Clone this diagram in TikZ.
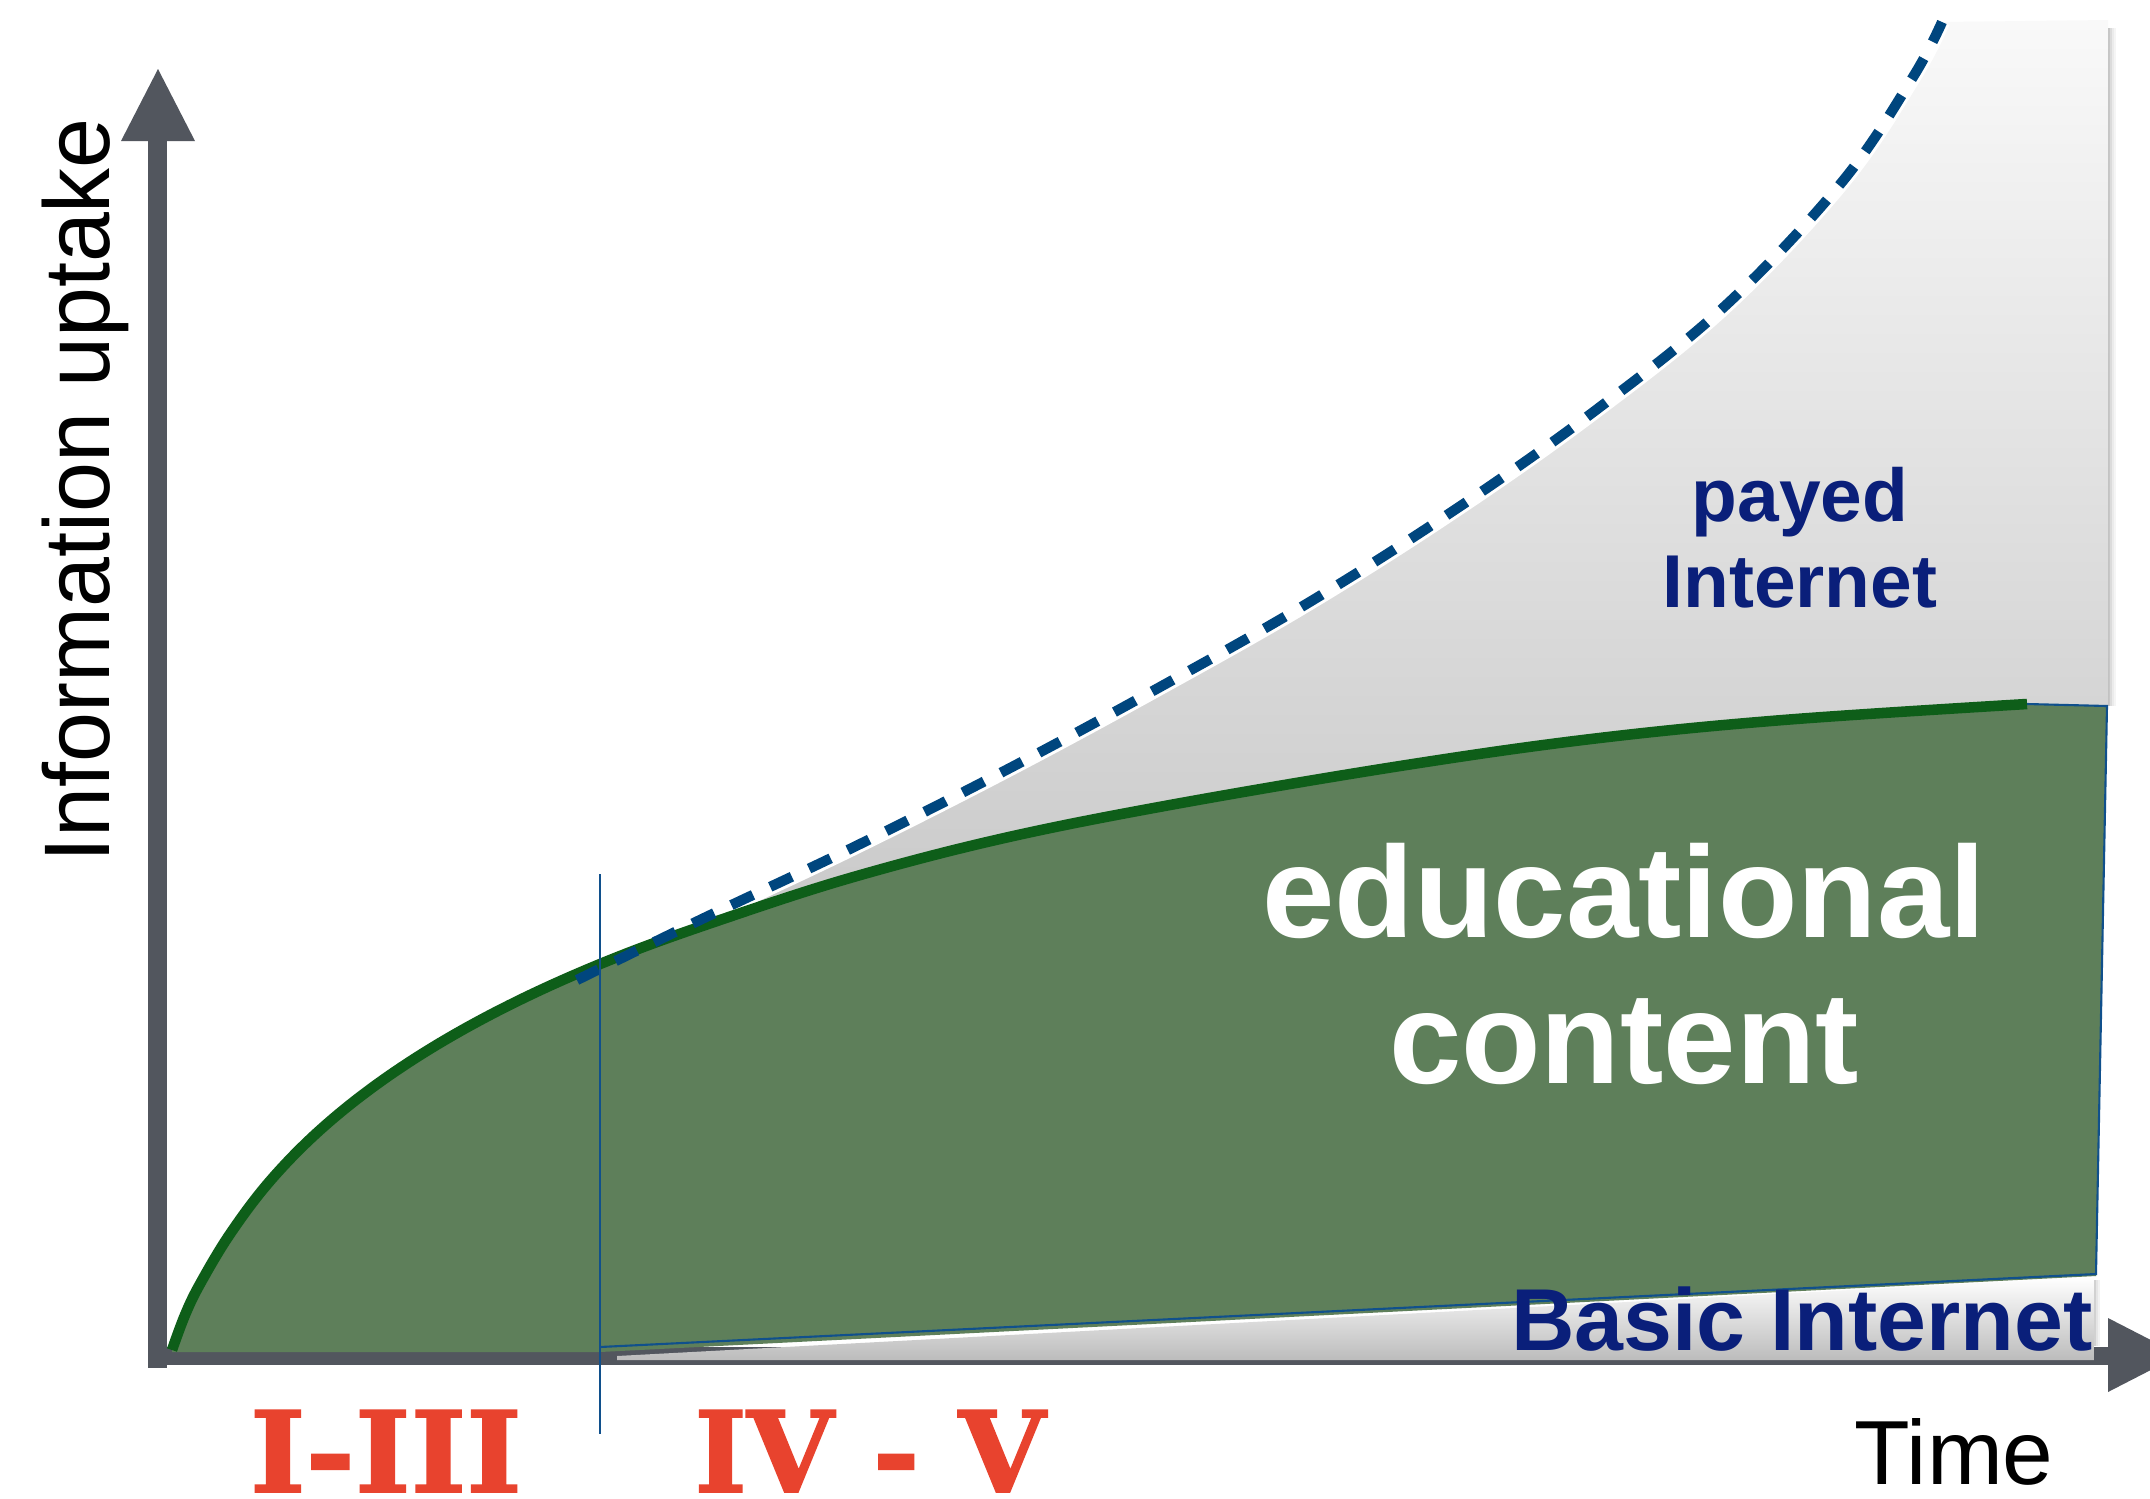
\documentclass[tikz,border=0pt]{standalone}
\usepackage{fontspec}
\setmainfont{Liberation Sans}
\newfontfamily\romfont[BoldFeatures={FakeBold=1.6}]{DejaVu Serif}
\definecolor{axisgray}{HTML}{52565E}
\definecolor{eduGreen}{HTML}{5E7F5A}
\definecolor{lineGreen}{HTML}{0E5E19}
\definecolor{dashBlue}{HTML}{00467E}
\definecolor{thinBlue}{HTML}{10508C}
\definecolor{navyText}{HTML}{0A1F7A}
\definecolor{phaseRed}{HTML}{E8432E}
\definecolor{panelTop}{HTML}{F9F9F9}
\definecolor{panelBottom}{HTML}{C6C6C6}
\definecolor{basicBottom}{HTML}{BCBCBC}
\tikzset{
  axisfill/.style={fill=axisgray},
  greenline/.style={draw=lineGreen, line width=3pt},
  dashline/.style={draw=dashBlue, line width=2.9pt, dash pattern=on 6.8pt off 5.4pt},
  thinline/.style={draw=thinBlue, line width=0.6pt},
  navylabel/.style={text=navyText, anchor=base, align=center, inner sep=0pt},
  phaselabel/.style={text=phaseRed, anchor=base, inner sep=0pt, font=\romfont\bfseries\fontsize{31.9}{36}\selectfont},
}
\begin{document}
\begin{tikzpicture}[x=0.01cm,y=-0.01cm]
\useasboundingbox (0,0) rectangle (2150,1499);
\clip (0,0) rectangle (2150,1499);
\fill[white] (0,0) rectangle (2150,1499);

% axes
\coordinate (origin) at (158,1356);
\fill[axisfill] (148,141) rectangle (167,1368);
\fill[axisfill] (121,141) -- (158,69) -- (195,141) -- cycle;
\fill[axisfill] (148,1347) rectangle (2108,1365);
\fill[axisfill] (2108,1318) -- (2180,1355) -- (2108,1392) -- cycle;

% payed internet panel
\shade[top color=panelTop, bottom color=panelBottom]
  plot[smooth, tension=0.6] coordinates {(577,980) (702,919) (856,846) (1010,768) (1160,687) (1308,603) (1453,511) (1592,413) (1725,306) (1842,182) (1913,77) (1942,22)}
  -- (2108,20) -- (2108,706) -- (1400,768) -- (800,898) -- (600,990) -- cycle;
\foreach \i/\o in {1/0.22,3/0.14,5/0.08,7/0.04}
  \draw[black, opacity=\o, line width=0.6pt] ({2108+\i},28) -- ({2108+\i},706);
\draw[white, line width=4.6pt] plot[smooth, tension=0.6] coordinates {(577,980) (702,919) (856,846) (1010,768) (1160,687) (1308,603) (1453,511) (1592,413) (1725,306) (1842,182) (1913,77) (1942,22)};

% educational content area
\fill[eduGreen]
  plot[smooth, tension=0.6] coordinates {(172,1350) (185,1315) (200,1284) (230,1234) (270,1181) (320,1130) (380,1082) (450,1037) (530,995) (620,956) (720,920) (850,878) (1000,839) (1170,805) (1400,766) (1591,739) (1783,720) (2027,704)}
  -- (2107,706) -- (2096,1276) -- (600,1352) -- (172,1352) -- cycle;

% basic internet panel
\shade[top color=white, bottom color=basicBottom]
  (617,1356) -- (2094,1277) -- (2094,1360) -- (617,1360) -- cycle;
\foreach \i/\o in {1/0.18,3/0.10,5/0.05}
  \draw[black, opacity=\o, line width=0.6pt] ({2094+\i},1280) -- ({2094+\i},1346);

\draw[thinline] (2027,704) -- (2107,706) -- (2096,1274) -- (600,1347);

% curves
\draw[greenline] plot[smooth, tension=0.6] coordinates {(172,1350) (185,1315) (200,1284) (230,1234) (270,1181) (320,1130) (380,1082) (450,1037) (530,995) (620,956) (720,920) (850,878) (1000,839) (1170,805) (1400,766) (1591,739) (1783,720) (2027,704)};
\draw[dashline] plot[smooth, tension=0.6] coordinates {(577,980) (702,919) (856,846) (1010,768) (1160,687) (1308,603) (1453,511) (1592,413) (1725,306) (1842,182) (1913,77) (1942,22)};

% phase separator
\coordinate (sepTop) at (600,874);
\coordinate (sepBot) at (600,1434);
\draw[thinline, line width=0.7pt] (sepTop) -- (sepBot);

% labels
\node[rotate=90, anchor=base, inner sep=0pt, font=\fontsize{26.5}{30}\selectfont] (ylabel) at (110,490) {\scalebox{0.964}[1]{Information uptake}};
\node[anchor=base, inner sep=0pt, font=\fontsize{25.9}{30}\selectfont] (time) at (1954,1484) {Time};
\node[navylabel, font=\bfseries\fontsize{21.3}{24.2}\selectfont] (payed) at (1800,607) {payed\\Internet};
\node[anchor=base, align=center, inner sep=0pt, text=white, font=\bfseries\fontsize{37}{41.5}\selectfont] (edu) at (1624,1083) {educational\\content};
\node[navylabel, font=\bfseries\fontsize{25}{30}\selectfont] (basic) at (1802,1350) {Basic Internet};
\node[phaselabel] (phaseA) at (386,1492) {\scalebox{1.06}[1]{I-III}};
\node[phaselabel] (phaseB) at (870,1492) {IV - V};
\end{tikzpicture}
\end{document}
